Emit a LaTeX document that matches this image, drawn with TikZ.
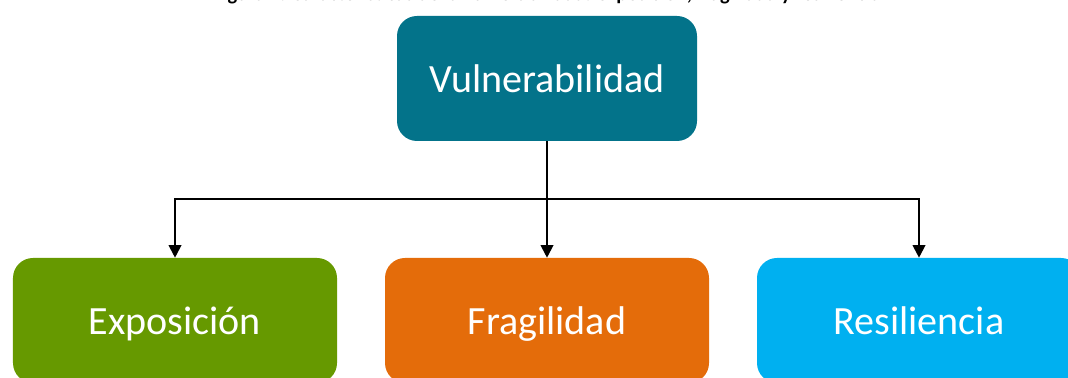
\documentclass[tikz,border=0pt]{standalone}
\usepackage{xcolor}
\usepackage{fontspec}
\setmainfont{Carlito}
\usepackage{tikz}
\usetikzlibrary{shapes,arrows,positioning,calc,arrows.meta}

\definecolor{vulteal}{HTML}{03738A}
\definecolor{expgreen}{HTML}{669900}
\definecolor{fraorange}{HTML}{E46C0A}
\definecolor{resblue}{HTML}{00B0F0}

\begin{document}
\begin{tikzpicture}[
      box/.style={rectangle, rounded corners=0.5cm, minimum width=8.1cm, minimum height=3.125cm, text=white, font=\fontsize{28.5}{34}\selectfont, align=center, inner sep=0pt, text height=0.8cm, text depth=0.12cm},
      arrow/.style={-{Triangle[width=9pt, length=9pt]}, line width=1.4pt},
      line/.style={line width=1.4pt},
    ]
    \useasboundingbox (0, 0) rectangle (26.7, 9.45);
    \node [anchor=base, font=\fontsize{14.5}{17}\selectfont\bfseries] (title) at (13.675, 9.44) {Figura 1. Características de la vulnerabilidad: exposición, fragilidad y resiliencia};
    \node [box, fill=vulteal, minimum width=7.5cm] (vul) at (13.675, 7.4875) {Vulnerabilidad};
    \node [box, fill=expgreen] (expo) at (4.375, 1.4375) {Exposición};
    \node [box, fill=fraorange] (fra) at (13.675, 1.4375) {Fragilidad};
    \node [box, fill=resblue] (res) at (22.975, 1.4375) {Resiliencia};
    \coordinate (split) at (13.675, 4.475);
    \draw [line] (vul.south) -- (split);
    \draw [arrow] (split) -- (fra.north);
    \draw [arrow] (split) -| (expo.north);
    \draw [arrow] (split) -| (res.north);
  \end{tikzpicture}
\end{document}
